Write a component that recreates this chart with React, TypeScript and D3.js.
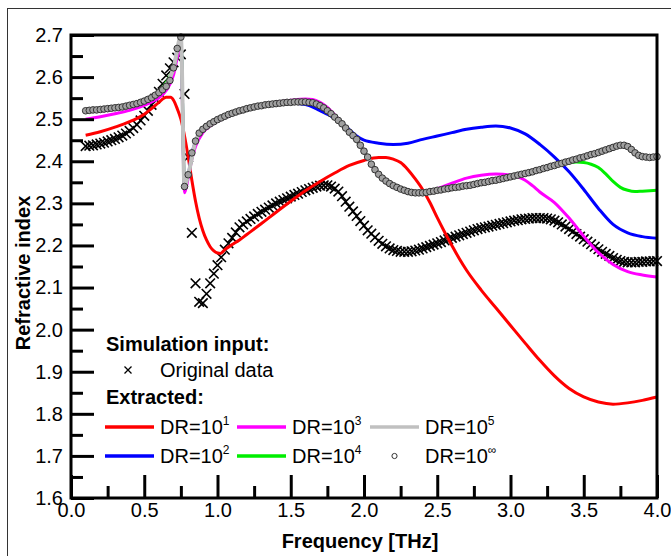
import React, { useEffect, useRef } from 'react';
import * as d3 from 'd3';

// sampling grid of the marker series (THz)
const gridStart = 0.1;
const gridStep = 0.025;

// Simulation input, original data (x markers), one value per grid step
const originalData = [
  2.436, 2.437, 2.438, 2.440, 2.442, 2.444, 2.447, 2.450,
  2.453, 2.457, 2.461, 2.466, 2.472, 2.479, 2.487, 2.497,
  2.508, 2.520, 2.534, 2.549, 2.565, 2.584, 2.604, 2.621,
  2.635, 2.646, 2.654, 2.560, 2.410, 2.230, 2.110, 2.066,
  2.063, 2.085, 2.110, 2.133, 2.153, 2.172, 2.190, 2.205,
  2.218, 2.231, 2.243, 2.250, 2.257, 2.263, 2.269, 2.275,
  2.280, 2.285, 2.290, 2.295, 2.300, 2.304, 2.308, 2.312,
  2.316, 2.320, 2.323, 2.327, 2.331, 2.334, 2.337, 2.340,
  2.342, 2.343, 2.343, 2.340, 2.335, 2.328, 2.317, 2.304,
  2.292, 2.281, 2.270, 2.258, 2.247, 2.236, 2.228, 2.219,
  2.211, 2.204, 2.198, 2.193, 2.189, 2.187, 2.185, 2.185,
  2.185, 2.186, 2.188, 2.190, 2.193, 2.196, 2.199, 2.202,
  2.205, 2.208, 2.212, 2.215, 2.218, 2.221, 2.224, 2.227,
  2.230, 2.233, 2.236, 2.239, 2.241, 2.243, 2.245, 2.247,
  2.249, 2.251, 2.253, 2.255, 2.257, 2.259, 2.260, 2.262,
  2.263, 2.264, 2.265, 2.265, 2.265, 2.265, 2.264, 2.262,
  2.259, 2.255, 2.250, 2.245, 2.239, 2.233, 2.227, 2.221,
  2.215, 2.209, 2.203, 2.197, 2.191, 2.185, 2.180, 2.175,
  2.170, 2.166, 2.163, 2.161, 2.160, 2.160, 2.160, 2.161,
  2.161, 2.162, 2.162, 2.163, 2.163,
];

// Extracted, DR=10^inf (circle markers), same grid
const drInf = [
  2.520, 2.521, 2.522, 2.522, 2.523, 2.524, 2.525, 2.526,
  2.527, 2.528, 2.529, 2.531, 2.533, 2.535, 2.537, 2.540,
  2.543, 2.547, 2.551, 2.557, 2.563, 2.570, 2.578, 2.592,
  2.622, 2.668, 2.695, 2.340, 2.368, 2.420, 2.448, 2.467,
  2.476, 2.483, 2.489, 2.494, 2.499, 2.503, 2.507, 2.511,
  2.514, 2.517, 2.520, 2.522, 2.525, 2.527, 2.529, 2.531,
  2.532, 2.534, 2.535, 2.536, 2.537, 2.538, 2.539, 2.540,
  2.540, 2.541, 2.541, 2.541, 2.541, 2.540, 2.539, 2.536,
  2.532, 2.527, 2.520, 2.513, 2.505, 2.497, 2.489, 2.479,
  2.469, 2.461, 2.452, 2.438, 2.424, 2.410, 2.393, 2.380,
  2.369, 2.360, 2.353, 2.347, 2.342, 2.338, 2.334, 2.331,
  2.328, 2.326, 2.325, 2.325, 2.325, 2.326, 2.328, 2.329,
  2.331, 2.332, 2.334, 2.335, 2.337, 2.338, 2.339, 2.341,
  2.342, 2.343, 2.345, 2.347, 2.349, 2.350, 2.352, 2.354,
  2.355, 2.357, 2.359, 2.361, 2.363, 2.365, 2.367, 2.369,
  2.371, 2.373, 2.375, 2.378, 2.380, 2.383, 2.385, 2.388,
  2.390, 2.393, 2.395, 2.398, 2.400, 2.403, 2.405, 2.408,
  2.410, 2.413, 2.416, 2.418, 2.421, 2.424, 2.427, 2.430,
  2.433, 2.436, 2.438, 2.438, 2.435, 2.428, 2.420, 2.414,
  2.411, 2.410, 2.409, 2.410, 2.411,
];

// Extracted lines: [frequency, refractive index]
const dr1 = [
  [0.1, 2.462], [0.2, 2.47], [0.3, 2.481], [0.4, 2.494], [0.5, 2.512], [0.55, 2.525],
  [0.6, 2.54], [0.65, 2.552], [0.68, 2.552], [0.7, 2.545], [0.725, 2.525], [0.75, 2.5],
  [0.775, 2.46], [0.8, 2.41], [0.825, 2.355], [0.85, 2.305], [0.875, 2.265], [0.9, 2.235],
  [0.925, 2.213], [0.95, 2.197], [0.975, 2.187], [1.0, 2.182], [1.02, 2.181], [1.05, 2.19],
  [1.1, 2.202], [1.15, 2.213], [1.2, 2.226], [1.3, 2.252], [1.4, 2.279], [1.5, 2.305],
  [1.6, 2.33], [1.7, 2.352], [1.8, 2.372], [1.9, 2.39], [2.0, 2.402], [2.1, 2.409],
  [2.15, 2.409], [2.2, 2.405], [2.25, 2.397], [2.3, 2.38], [2.35, 2.358], [2.4, 2.333],
  [2.45, 2.302], [2.5, 2.266], [2.55, 2.232], [2.6, 2.2], [2.65, 2.169], [2.7, 2.141],
  [2.8, 2.094], [2.9, 2.052], [3.0, 2.01], [3.1, 1.968], [3.2, 1.927], [3.3, 1.89],
  [3.4, 1.86], [3.5, 1.84], [3.6, 1.828], [3.7, 1.823], [3.8, 1.826], [3.9, 1.832],
  [4.0, 1.84],
];

const dr2 = [
  [0.1, 2.519], [0.3, 2.526], [0.5, 2.542], [0.6, 2.562], [0.65, 2.577], [0.7, 2.62],
  [0.725, 2.665], [0.75, 2.69], [0.775, 2.34], [0.8, 2.366], [0.825, 2.418], [0.85, 2.446],
  [0.9, 2.474], [1.0, 2.498], [1.1, 2.513], [1.2, 2.524], [1.3, 2.531], [1.4, 2.536],
  [1.5, 2.538], [1.6, 2.535], [1.7, 2.52], [1.8, 2.502], [1.85, 2.49], [1.9, 2.475],
  [1.95, 2.46], [2.0, 2.45], [2.1, 2.443], [2.2, 2.44], [2.3, 2.443], [2.4, 2.452],
  [2.5, 2.46], [2.6, 2.468], [2.7, 2.476], [2.8, 2.481], [2.9, 2.484], [3.0, 2.479],
  [3.1, 2.465], [3.2, 2.44], [3.3, 2.41], [3.4, 2.375], [3.5, 2.333], [3.6, 2.288],
  [3.7, 2.25], [3.8, 2.23], [3.9, 2.221], [4.0, 2.217],
];

const dr3 = [
  [0.1, 2.5], [0.2, 2.506], [0.3, 2.513], [0.4, 2.521], [0.5, 2.533], [0.55, 2.541],
  [0.6, 2.551], [0.65, 2.568], [0.7, 2.605], [0.725, 2.645], [0.75, 2.672], [0.775, 2.325],
  [0.8, 2.36], [0.825, 2.405], [0.85, 2.435], [0.9, 2.468], [0.95, 2.484], [1.0, 2.495],
  [1.1, 2.511], [1.2, 2.523], [1.3, 2.533], [1.4, 2.54], [1.5, 2.545], [1.6, 2.548],
  [1.65, 2.547], [1.7, 2.54], [1.75, 2.528], [1.8, 2.51], [1.85, 2.49], [1.9, 2.47],
  [1.95, 2.452], [2.0, 2.425], [2.05, 2.392], [2.1, 2.368], [2.15, 2.35], [2.2, 2.34],
  [2.25, 2.333], [2.3, 2.328], [2.4, 2.326], [2.5, 2.335], [2.6, 2.348], [2.7, 2.36],
  [2.8, 2.367], [2.9, 2.37], [3.0, 2.367], [3.05, 2.363], [3.1, 2.355], [3.15, 2.342],
  [3.2, 2.327], [3.3, 2.302], [3.4, 2.265], [3.5, 2.222], [3.6, 2.183], [3.7, 2.155],
  [3.8, 2.138], [3.9, 2.13], [4.0, 2.125],
];

const dr4 = [
  [0.1, 2.52], [0.5, 2.542], [0.7, 2.62], [0.75, 2.693], [0.775, 2.34], [0.8, 2.367],
  [0.85, 2.447], [0.9, 2.475], [1.0, 2.498], [1.2, 2.524], [1.4, 2.536], [1.6, 2.541],
  [1.7, 2.532], [1.8, 2.505], [1.9, 2.469], [2.0, 2.424], [2.1, 2.369], [2.2, 2.342],
  [2.3, 2.328], [2.4, 2.325], [2.5, 2.331], [2.75, 2.343], [3.0, 2.361], [3.2, 2.38],
  [3.3, 2.39], [3.35, 2.395], [3.4, 2.397], [3.45, 2.398], [3.5, 2.397], [3.55, 2.393],
  [3.6, 2.385], [3.65, 2.37], [3.7, 2.352], [3.75, 2.338], [3.8, 2.331], [3.85, 2.328],
  [3.9, 2.329], [4.0, 2.331],
];

const dr5 = [
  [0.1, 2.52], [0.3, 2.527], [0.5, 2.543], [0.6, 2.563], [0.7, 2.622], [0.75, 2.695],
  [0.775, 2.34], [0.8, 2.368], [0.85, 2.448], [0.9, 2.476], [1.0, 2.499], [1.2, 2.525],
  [1.4, 2.537], [1.6, 2.541], [1.7, 2.532], [1.8, 2.505], [1.9, 2.469], [2.0, 2.424],
  [2.1, 2.369], [2.2, 2.342], [2.3, 2.328], [2.4, 2.325], [2.5, 2.331], [2.75, 2.343],
  [3.0, 2.363], [3.25, 2.385], [3.5, 2.41], [3.75, 2.438], [3.8, 2.435], [3.85, 2.42],
  [3.9, 2.411], [4.0, 2.411],
];

const seriesLines = [
  { name: 'DR=10', sup: '1', data: dr1, color: '#ff0000', width: 3 },
  { name: 'DR=10', sup: '2', data: dr2, color: '#0000ff', width: 3 },
  { name: 'DR=10', sup: '3', data: dr3, color: '#ff00ff', width: 3 },
  { name: 'DR=10', sup: '4', data: dr4, color: '#00ee00', width: 3 },
  { name: 'DR=10', sup: '5', data: dr5, color: '#c0c0c0', width: 4 },
];

const majorY = [1.6, 1.7, 1.8, 1.9, 2.0, 2.1, 2.2, 2.3, 2.4, 2.5, 2.6, 2.7];
const minorY = [1.65, 1.75, 1.85, 1.95, 2.05, 2.15, 2.25, 2.35, 2.45, 2.55, 2.65];
const majorX = [0, 0.5, 1.0, 1.5, 2.0, 2.5, 3.0, 3.5, 4.0];
const minorX = [0.25, 0.75, 1.25, 1.75, 2.25, 2.75, 3.25, 3.75];

const FONT = 'Arial, "Liberation Sans", sans-serif';

const App = () => {
  const svgRef = useRef(null);

  useEffect(() => {
    const width = 671;
    const height = 556;
    const svg = d3.select(svgRef.current);
    svg.selectAll('*').remove();
    svg.attr('width', width).attr('height', height);

    svg.append('rect').attr('width', width).attr('height', height).attr('fill', '#fff');
    // outer frame
    svg.append('rect')
      .attr('x', 7.5).attr('y', 8.5)
      .attr('width', 700).attr('height', 600)
      .attr('fill', 'none').attr('stroke', '#333').attr('stroke-width', 1);

    const x = d3.scaleLinear().domain([0, 4]).range([71, 657]);
    const y = d3.scaleLinear().domain([1.6, 2.7]).range([498, 35]);

    const freq = (i) => gridStart + i * gridStep;

    // original data crosses
    const s = 4.8;
    svg.append('g')
      .selectAll('path')
      .data(originalData)
      .enter()
      .append('path')
      .attr('d', (d, i) => {
        const cx = x(freq(i));
        const cy = y(d);
        return `M${cx - s},${cy - s}L${cx + s},${cy + s}M${cx - s},${cy + s}L${cx + s},${cy - s}`;
      })
      .attr('stroke', '#000')
      .attr('stroke-width', 1.6)
      .attr('fill', 'none');

    const line = d3.line()
      .x((d) => x(d[0]))
      .y((d) => y(d[1]))
      .curve(d3.curveMonotoneX);

    seriesLines.forEach((sr) => {
      svg.append('path')
        .datum(sr.data)
        .attr('d', line)
        .attr('fill', 'none')
        .attr('stroke', sr.color)
        .attr('stroke-width', sr.width)
        .attr('stroke-linejoin', 'round');
    });

    // DR=10^inf circles
    svg.append('g')
      .selectAll('circle')
      .data(drInf)
      .enter()
      .append('circle')
      .attr('cx', (d, i) => x(freq(i)))
      .attr('cy', (d) => y(d))
      .attr('r', 3.3)
      .attr('fill', '#a0a0a0')
      .attr('stroke', '#333')
      .attr('stroke-width', 1);

    // axes
    const fmt = d3.format('.1f');
    const yAxis = svg.append('g')
      .attr('transform', 'translate(71,0)')
      .call(d3.axisLeft(y).tickValues(majorY).tickSize(-23).tickPadding(8).tickFormat(fmt));
    const yMinor = svg.append('g')
      .attr('transform', 'translate(71,0)')
      .call(d3.axisLeft(y).tickValues(minorY).tickSize(-12).tickFormat(() => ''));
    const xAxis = svg.append('g')
      .attr('transform', 'translate(0,498)')
      .call(d3.axisBottom(x).tickValues(majorX).tickSize(-23).tickPadding(5).tickFormat(fmt));
    const xMinor = svg.append('g')
      .attr('transform', 'translate(0,498)')
      .call(d3.axisBottom(x).tickValues(minorX).tickSize(-12).tickFormat(() => ''));

    [yAxis, yMinor, xAxis, xMinor].forEach((g) => {
      g.select('.domain').remove();
      g.selectAll('line').attr('stroke', '#000').attr('stroke-width', 3);
      g.selectAll('text')
        .attr('font-family', FONT)
        .attr('font-size', 20)
        .attr('fill', '#000');
    });

    svg.append('rect')
      .attr('x', 71).attr('y', 35)
      .attr('width', 657 - 71).attr('height', 498 - 35)
      .attr('fill', 'none')
      .attr('stroke', '#000')
      .attr('stroke-width', 3);

    // axis titles
    svg.append('text')
      .attr('x', 360).attr('y', 548)
      .attr('text-anchor', 'middle')
      .attr('font-family', FONT)
      .attr('font-size', 20)
      .attr('font-weight', 'bold')
      .text('Frequency [THz]');

    svg.append('text')
      .attr('transform', 'translate(30,273) rotate(-90)')
      .attr('text-anchor', 'middle')
      .attr('font-family', FONT)
      .attr('font-size', 20)
      .attr('font-weight', 'bold')
      .text('Refractive index');

    // legend
    const lg = svg.append('g').attr('font-family', FONT).attr('font-size', 20);
    lg.append('text').attr('x', 106).attr('y', 351).attr('font-weight', 'bold').text('Simulation input:');
    lg.append('path')
      .attr('d', 'M124.5,366.5L131.5,373.5M124.5,373.5L131.5,366.5')
      .attr('stroke', '#000').attr('stroke-width', 1.3);
    lg.append('text').attr('x', 160).attr('y', 377).text('Original data');
    lg.append('text').attr('x', 106).attr('y', 404).attr('font-weight', 'bold').text('Extracted:');

    const slots = [
      { s: 0, col: 0, row: 0 },
      { s: 1, col: 0, row: 1 },
      { s: 2, col: 1, row: 0 },
      { s: 3, col: 1, row: 1 },
      { s: 4, col: 2, row: 0 },
    ];
    const colX = [105, 237, 370];
    const rowY = [427, 456];
    const addLabel = (tx, ty, sup) => {
      const t = lg.append('text').attr('x', tx).attr('y', ty).text('DR=10');
      t.append('tspan').attr('font-size', 12).attr('dy', -9).text(sup);
    };
    slots.forEach((sl) => {
      const sr = seriesLines[sl.s];
      const lx = colX[sl.col];
      const ly = rowY[sl.row];
      lg.append('line')
        .attr('x1', lx).attr('x2', lx + 49)
        .attr('y1', ly).attr('y2', ly)
        .attr('stroke', sr.color)
        .attr('stroke-width', 3.5);
      addLabel(lx + 55, ly + 7, sr.sup);
    });
    lg.append('circle')
      .attr('cx', 394.5).attr('cy', 456)
      .attr('r', 2.6)
      .attr('fill', '#fff')
      .attr('stroke', '#333')
      .attr('stroke-width', 1);
    addLabel(425, 463, '∞');
  }, []);

  return (
    <svg ref={svgRef} style={{ position: 'absolute', left: 0, top: 0, display: 'block' }} />
  );
};

export default App;
